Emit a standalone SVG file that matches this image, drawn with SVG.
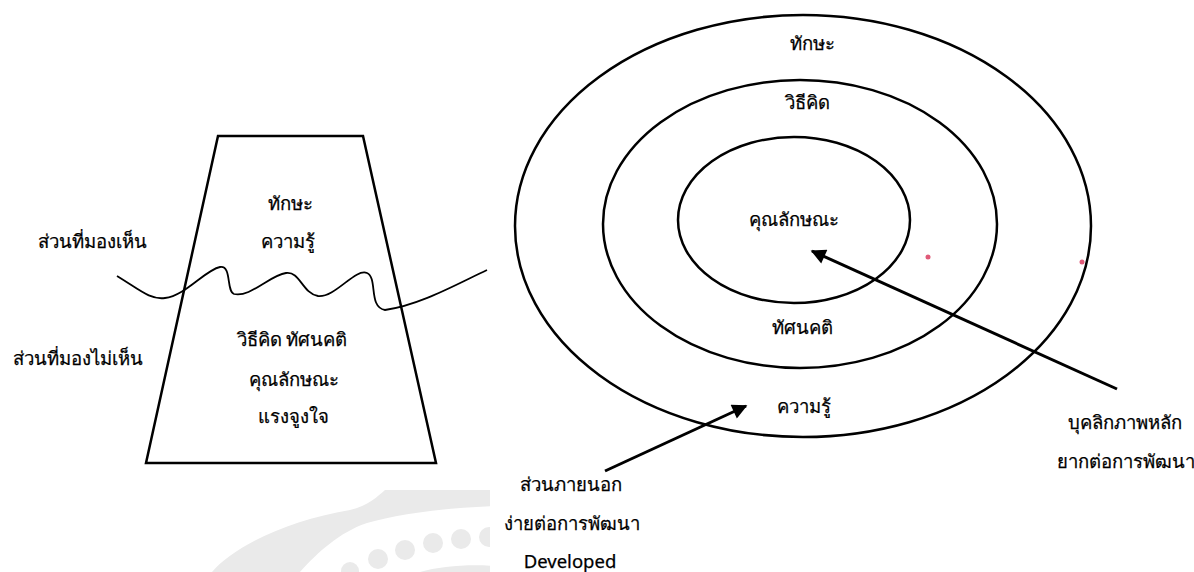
<svg xmlns="http://www.w3.org/2000/svg" width="1194" height="572" viewBox="0 0 1194 572">
  <style>
    .t { font-family: "Noto Sans", "DejaVu Sans", sans-serif; font-size: 18.5px; fill: #000; text-anchor: middle; dominant-baseline: central; stroke: #000; stroke-width: 0.25; }
    .shape { fill: none; stroke: #000; stroke-width: 2.5; }
    .ring { fill: none; stroke: #000; stroke-width: 2.5; }
    .arrow { fill: none; stroke: #000; stroke-width: 3; marker-end: url(#head); }
    .wm { fill: #eaeaea; }
  </style>
  <defs>
    <marker id="head" viewBox="0 0 10 10" refX="9" refY="5" markerWidth="5.5" markerHeight="5" orient="auto" markerUnits="strokeWidth">
      <path d="M0,0 L10,5 L0,10 z" fill="#000"/>
    </marker>
    <clipPath id="leftHalf"><rect x="0" y="0" width="490" height="572"/></clipPath>
  </defs>
  <rect width="1194" height="572" fill="#fff"/>

  <!-- faint background emblem, lower left -->
  <g id="emblem" clip-path="url(#leftHalf)">
    <path class="wm" d="M212,572 C235,545 290,520 350,510 C368,506 378,496 385,490 L495,490 L495,506 C440,508 395,515 367,523 C340,532 318,552 300,572 Z"/>
    <circle class="wm" cx="350" cy="571" r="9"/>
    <circle class="wm" cx="378" cy="559" r="10"/>
    <circle class="wm" cx="405" cy="550" r="10"/>
    <circle class="wm" cx="433" cy="543" r="10"/>
    <circle class="wm" cx="461" cy="539" r="10"/>
    <circle class="wm" cx="489" cy="537" r="10"/>
    <path class="wm" d="M420,572 C440,566 470,564 495,566 L495,572 Z"/>
  </g>

  <!-- iceberg model -->
  <g id="iceberg">
    <polygon class="shape" points="218,136 363,136 436,463 146,463"/>
    <text class="t" x="290" y="202">ทักษะ</text>
    <text class="t" x="288" y="240">ความรู้</text>
    <text class="t" x="292" y="338">วิธีคิด ทัศนคติ</text>
    <text class="t" x="294" y="378">คุณลักษณะ</text>
    <text class="t" x="293" y="415">แรงจูงใจ</text>
  </g>

  <g id="waterline">
    <path fill="none" stroke="#000" stroke-width="1.8" d="M117,276 C140,290 150,300 165,298 C185,296 205,270 220,267 C232,265 226,291 234,294 C250,298 270,275 286,273 C300,271 302,293 318,296 C335,298 355,268 367,273 C378,278 368,307 385,310 C420,305 455,285 487,270"/>
  </g>

  <g id="label-visible">
    <text class="t" x="92" y="240">ส่วนที่มองเห็น</text>
  </g>
  <g id="label-hidden">
    <text class="t" x="78" y="357">ส่วนที่มองไม่เห็น</text>
  </g>

  <!-- concentric model -->
  <g id="ring-outer">
    <ellipse class="ring" cx="803" cy="226" rx="288" ry="211"/>
    <text class="t" x="812" y="42">ทักษะ</text>
    <text class="t" x="804" y="405">ความรู้</text>
  </g>
  <g id="ring-middle">
    <ellipse class="ring" cx="800" cy="224" rx="197" ry="144"/>
    <text class="t" x="807" y="101">วิธีคิด</text>
    <text class="t" x="802" y="326">ทัศนคติ</text>
  </g>
  <g id="ring-inner">
    <ellipse class="ring" cx="794" cy="220" rx="116" ry="83"/>
    <text class="t" x="794" y="218">คุณลักษณะ</text>
  </g>

  <g id="dots">
    <circle cx="928" cy="257" r="2.5" fill="#e05a78"/>
    <circle cx="1082" cy="262" r="2.5" fill="#e05a78"/>
  </g>

  <g id="connectors">
    <line class="arrow" x1="1117" y1="389" x2="812" y2="251"/>
    <line class="arrow" x1="605" y1="471" x2="746" y2="406"/>
  </g>

  <g id="label-core">
    <text class="t" x="1125" y="421">บุคลิกภาพหลัก</text>
    <text class="t" x="1126" y="460">ยากต่อการพัฒนา</text>
  </g>
  <g id="label-surface">
    <text class="t" x="571" y="483">ส่วนภายนอก</text>
    <text class="t" x="572" y="522">ง่ายต่อการพัฒนา</text>
    <text class="t" x="570" y="560">Developed</text>
  </g>
</svg>
